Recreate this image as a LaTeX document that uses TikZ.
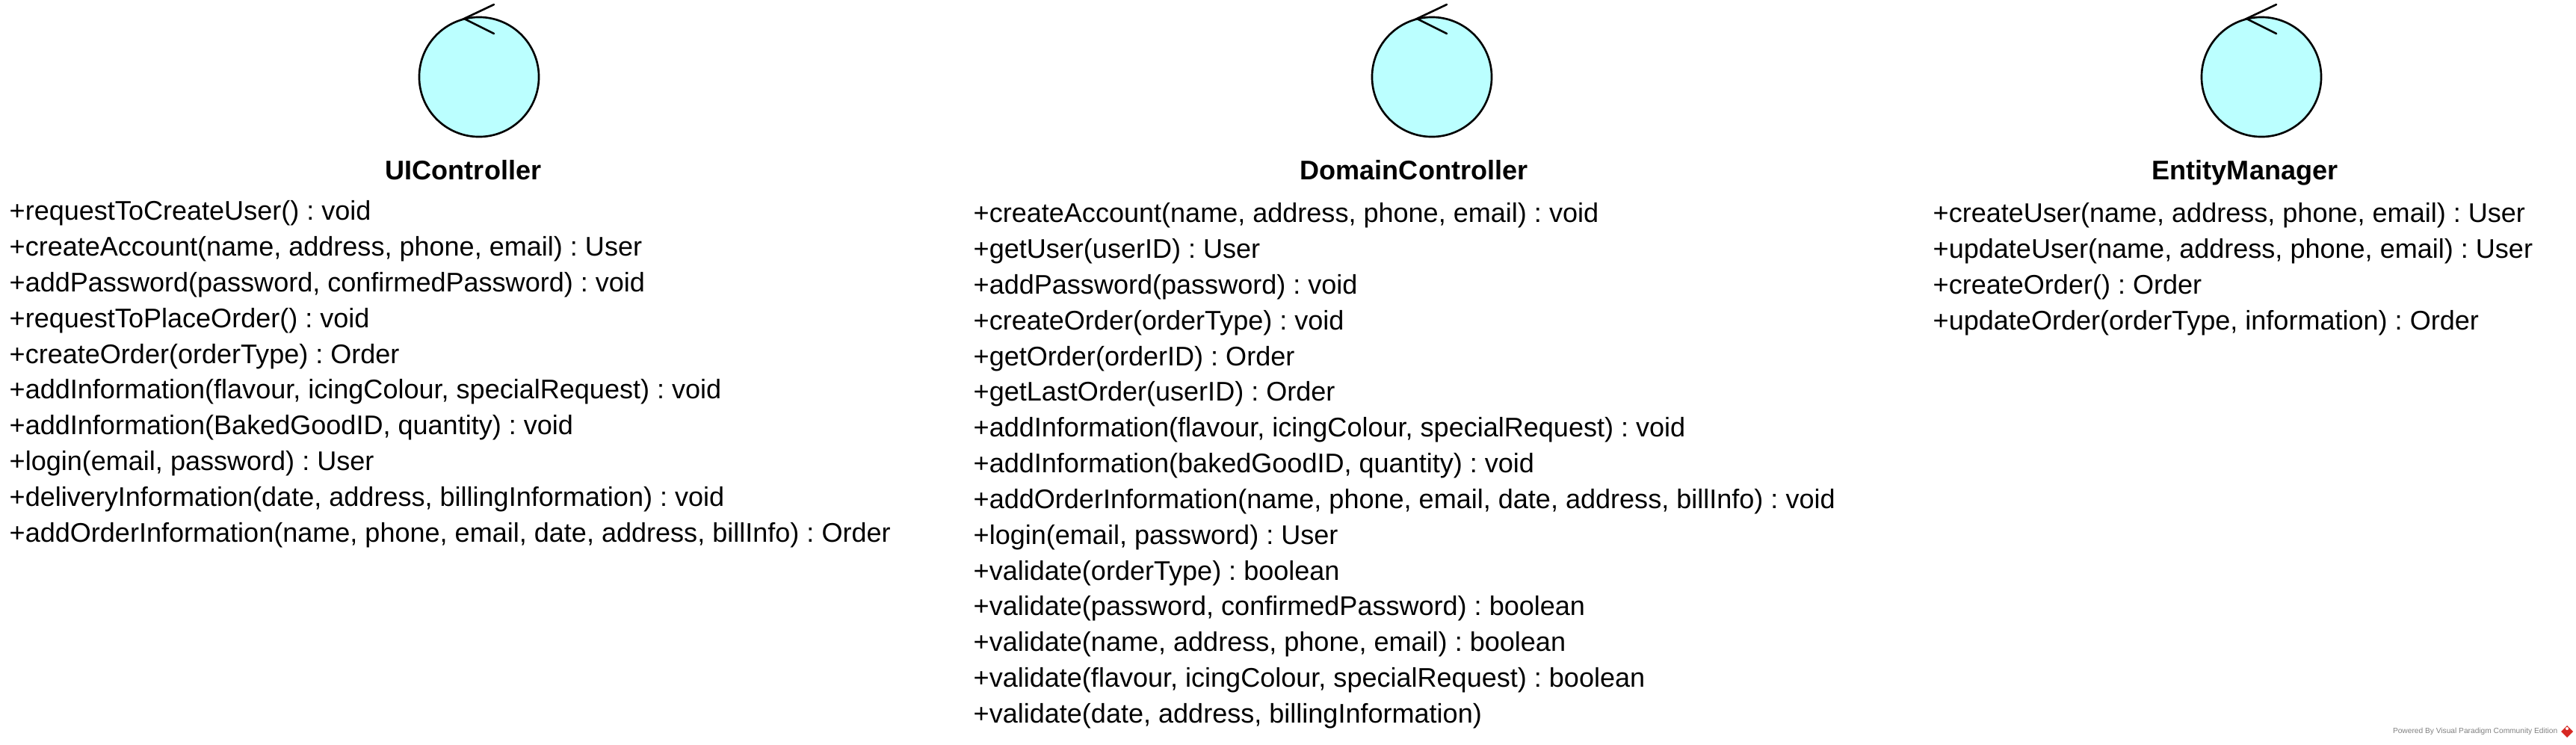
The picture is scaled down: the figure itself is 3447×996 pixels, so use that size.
\documentclass[tikz,border=0pt]{standalone}
\usepackage{fontspec}
\setmainfont{Liberation Sans}
\usepackage{tikz}
\usetikzlibrary{arrows.meta,shapes,positioning}

\definecolor{ctrlfill}{RGB}{187,255,255}
\definecolor{logored}{RGB}{215,40,35}
\tikzset{
  ctrlcircle/.style={circle, draw=black, fill=ctrlfill, line width=0.75pt, minimum size=1.6cm, inner sep=0pt},
  ctrlstroke/.style={draw=black, line width=0.75pt, line cap=round},
  ctrlname/.style={anchor=base, inner sep=0pt, font=\fontsize{10.25pt}{13.6pt}\selectfont\bfseries},
  oplist/.style={anchor=north west, align=left, inner sep=0pt, font=\fontsize{10.25pt}{13.6pt}\selectfont\frenchspacing},
}

\begin{document}
\begin{tikzpicture}[x=0.01cm, y=-0.01cm]
    \useasboundingbox (0,0) rectangle (3447,996);

    % UI controller
    \node[ctrlcircle] (uiCircle) at (641,103) {};
    \draw[ctrlstroke] (661,6) -- (621,25) -- (661,45);
    \node[ctrlname] (uiName) at (620,240) {UIController};
    \node[oplist] (uiOps) at (12,268) {%
      +requestToCreateUser() : void\\
      +createAccount(name, address, phone, email) : User\\
      +addPassword(password, confirmedPassword) : void\\
      +requestToPlaceOrder() : void\\
      +createOrder(orderType) : Order\\
      +addInformation(flavour, icingColour, specialRequest) : void\\
      +addInformation(BakedGoodID, quantity) : void\\
      +login(email, password) : User\\
      +deliveryInformation(date, address, billingInformation) : void\\
      +addOrderInformation(name, phone, email, date, address, billInfo) : Order};

    % Domain controller
    \node[ctrlcircle] (domainCircle) at (1916,103) {};
    \draw[ctrlstroke] (1936,6) -- (1896,25) -- (1936,45);
    \node[ctrlname] (domainName) at (1892,240) {DomainController};
    \node[oplist] (domainOps) at (1302,271) {%
      +createAccount(name, address, phone, email) : void\\
      +getUser(userID) : User\\
      +addPassword(password) : void\\
      +createOrder(orderType) : void\\
      +getOrder(orderID) : Order\\
      +getLastOrder(userID) : Order\\
      +addInformation(flavour, icingColour, specialRequest) : void\\
      +addInformation(bakedGoodID, quantity) : void\\
      +addOrderInformation(name, phone, email, date, address, billInfo) : void\\
      +login(email, password) : User\\
      +validate(orderType) : boolean\\
      +validate(password, confirmedPassword) : boolean\\
      +validate(name, address, phone, email) : boolean\\
      +validate(flavour, icingColour, specialRequest) : boolean\\
      +validate(date, address, billingInformation)};

    % Entity manager
    \node[ctrlcircle] (entityCircle) at (3026,103) {};
    \draw[ctrlstroke] (3046,6) -- (3006,25) -- (3046,45);
    \node[ctrlname] (entityName) at (3004,240) {EntityManager};
    \node[oplist] (entityOps) at (2586,271) {%
      +createUser(name, address, phone, email) : User\\
      +updateUser(name, address, phone, email) : User\\
      +createOrder() : Order\\
      +updateOrder(orderType, information) : Order};

    % Footer
    \node[anchor=east, inner sep=0pt, text=gray, font=\fontsize{2.9pt}{4pt}\selectfont] (footer) at (3423,979) {Powered By Visual Paradigm Community Edition};
    \fill[logored] (3435,971) -- (3443,979) -- (3435,987) -- (3427,979) -- cycle;
    \fill[white] (3435,975) circle (2);
\end{tikzpicture}
\end{document}
